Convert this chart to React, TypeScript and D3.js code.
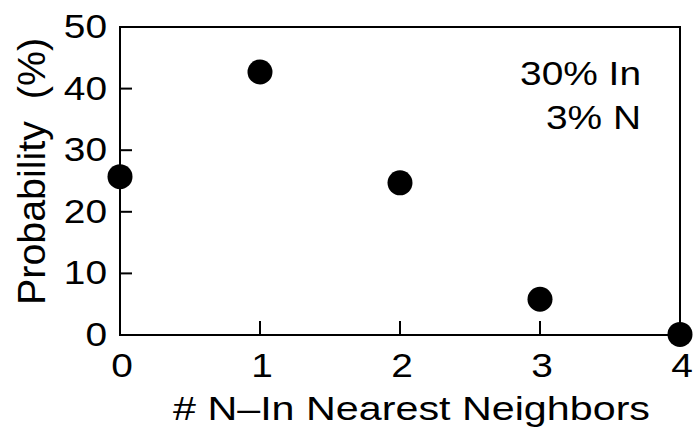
import { useEffect, useRef } from "react";
import * as d3 from "d3";

const neighbors = [0, 1, 2, 3, 4];
const probability = [25.7, 42.7, 24.7, 5.8, 0.1];
const yTicks = [0, 10, 20, 30, 40, 50];
const annotation = ["30% In", "3% N"];

const W = 694;
const H = 428;
const margin = { top: 27, right: 14, bottom: 93, left: 120 };
const font = "'Liberation Sans', Arial, Helvetica, sans-serif";
const fs = 33.5;
const sx = 1.16; // the glyphs are wider than tall in the original

export default function App() {
  const ref = useRef<SVGSVGElement>(null);

  useEffect(() => {
    const svg = d3.select(ref.current);
    svg.selectAll("*").remove();

    const x = d3.scaleLinear().domain([0, 4]).range([margin.left, W - margin.right]);
    const y = d3.scaleLinear().domain([0, 50]).range([H - margin.bottom, margin.top]);

    const g = svg.append("g");

    // wide text helper
    const label = (px: number, py: number, txt: string, anchor: string) =>
      g.append("g")
        .attr("transform", `translate(${px},${py}) scale(${sx},1)`)
        .append("text")
        .attr("text-anchor", anchor)
        .attr("font-family", font)
        .attr("font-size", fs)
        .text(txt);

    // frame
    g.append("rect")
      .attr("x", x(0))
      .attr("y", y(50))
      .attr("width", x(4) - x(0))
      .attr("height", y(0) - y(50))
      .attr("fill", "none")
      .attr("stroke", "#000")
      .attr("stroke-width", 2);

    // y ticks (inside)
    g.selectAll(".yt")
      .data(yTicks.slice(1, -1))
      .join("line")
      .attr("x1", x(0))
      .attr("x2", x(0) + 12)
      .attr("y1", d => y(d))
      .attr("y2", d => y(d))
      .attr("stroke", "#000")
      .attr("stroke-width", 2);

    yTicks.forEach(d => label(x(0) - 13, y(d) + 11, String(d), "end"));

    // x ticks (inside)
    g.selectAll(".xt")
      .data(neighbors.slice(1, -1))
      .join("line")
      .attr("x1", d => x(d))
      .attr("x2", d => x(d))
      .attr("y1", y(0))
      .attr("y2", y(0) - 14)
      .attr("stroke", "#000")
      .attr("stroke-width", 2);

    neighbors.forEach(d => label(x(d) + 2, y(0) + 42, String(d), "middle"));

    // axis titles
    g.append("text")
      .attr("x", 173)
      .attr("y", 420)
      .attr("font-family", font)
      .attr("font-size", fs)
      .attr("textLength", 477)
      .attr("lengthAdjust", "spacingAndGlyphs")
      .text("# N\u2013In Nearest Neighbors");

    g.append("g")
      .attr("transform", `translate(45,171.5) scale(${sx},1) rotate(-90)`)
      .append("text")
      .attr("x", -133.5)
      .attr("font-family", font)
      .attr("font-size", fs)
      .attr("textLength", 267)
      .attr("lengthAdjust", "spacingAndGlyphs")
      .style("white-space", "pre")
      .text("Probability  (%)");

    // points
    g.selectAll(".pt")
      .data(neighbors)
      .join("circle")
      .attr("cx", d => x(d))
      .attr("cy", (d, i) => y(probability[i]))
      .attr("r", 12.5)
      .attr("fill", "#000");

    // annotation
    annotation.forEach((t, i) => label(641, 85 + i * 44, t, "end"));
  }, []);

  return (
    <svg
      ref={ref}
      width={W}
      height={H}
      style={{ position: "absolute", left: 0, top: 0, background: "#fff" }}
    />
  );
}
